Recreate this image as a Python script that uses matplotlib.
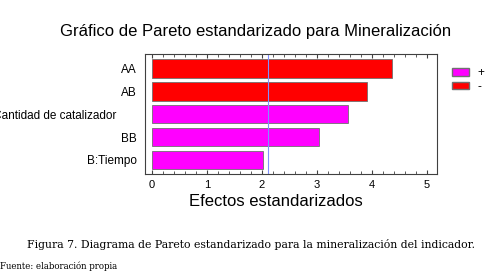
import matplotlib.pyplot as plt
import matplotlib.transforms as mtransforms
from matplotlib.patches import Patch
from matplotlib.ticker import MultipleLocator

factors = ["AA", "AB", "A:Cantidad de catalizador", "BB", "B:Tiempo"]
effects = [4.37, 3.91, 3.56, 3.04, 2.01]
signs = ["-", "-", "+", "+", "+"]
critical = 2.10

colors = {"+": "#ff00ff", "-": "#ff0000"}

plt.rcParams['font.family'] = ['Liberation Sans', 'DejaVu Sans']
serif = ["DejaVu Serif", "Liberation Serif"]

fig = plt.figure(figsize=(5.02, 2.73), dpi=100)
ax = fig.add_axes([0.2888, 0.3626, 0.5817, 0.4396])

ypos = list(range(len(factors)))
ax.barh(ypos, effects, height=0.8, color=[colors[s] for s in signs],
        edgecolor="#707070", linewidth=0.6)
ax.axvline(critical, color="#7f8fff", linewidth=0.8)

ax.set_xlim(-0.127, 5.18)
ax.set_ylim(len(factors) - 0.38, -0.64)
ax.set_yticks(ypos)
ax.set_yticklabels(factors, fontsize=8.5)
ax.set_xticks(range(6))
ax.xaxis.set_minor_locator(MultipleLocator(0.2))
ax.tick_params(axis="x", which="both", direction="in", top=True, labelsize=8, color="#404040", pad=4)
ax.tick_params(axis="x", which="major", length=3)
ax.tick_params(axis="x", which="minor", length=2)
ax.tick_params(axis="y", length=0, pad=5.8)
for sp in ax.spines.values():
    sp.set_color("#404040")
    sp.set_linewidth(0.8)

# the long label sits further left in the original (and runs off the edge there too)
lbl = ax.get_yticklabels()[2]
lbl.set_transform(lbl.get_transform() + mtransforms.ScaledTranslation(-21 / 100, 0, fig.dpi_scale_trans))

ax.set_xlabel("Efectos estandarizados", fontsize=12)
ax.xaxis.set_label_coords((276 - 145) / 292, -(201.7 - 174) / 120)
ax.xaxis.label.set_va("center")

fig.text(256 / 502, 1 - 31.7 / 273, "Gráfico de Pareto estandarizado para Mineralización",
         ha="center", va="center", fontsize=12)

handles = [Patch(facecolor=colors["+"], edgecolor="#707070", label="+"),
           Patch(facecolor=colors["-"], edgecolor="#707070", label="-")]
fig.legend(handles=handles, loc="upper left", bbox_to_anchor=(446 / 502, 1 - 61 / 273),
           frameon=False, fontsize=8.5, handlelength=1.44, handleheight=0.65,
           labelspacing=0.15, borderpad=0, handletextpad=0.7)

fig.text(251 / 502, 1 - 245 / 273,
         "Figura 7. Diagrama de Pareto estandarizado para la mineralización del indicador.",
         ha="center", va="center", fontsize=7.8, family=serif)
fig.text(0.0, 1 - 266.5 / 273, "Fuente: elaboración propia",
         ha="left", va="center", fontsize=6.2, family=serif)

fig.savefig("out.png", dpi=100)
